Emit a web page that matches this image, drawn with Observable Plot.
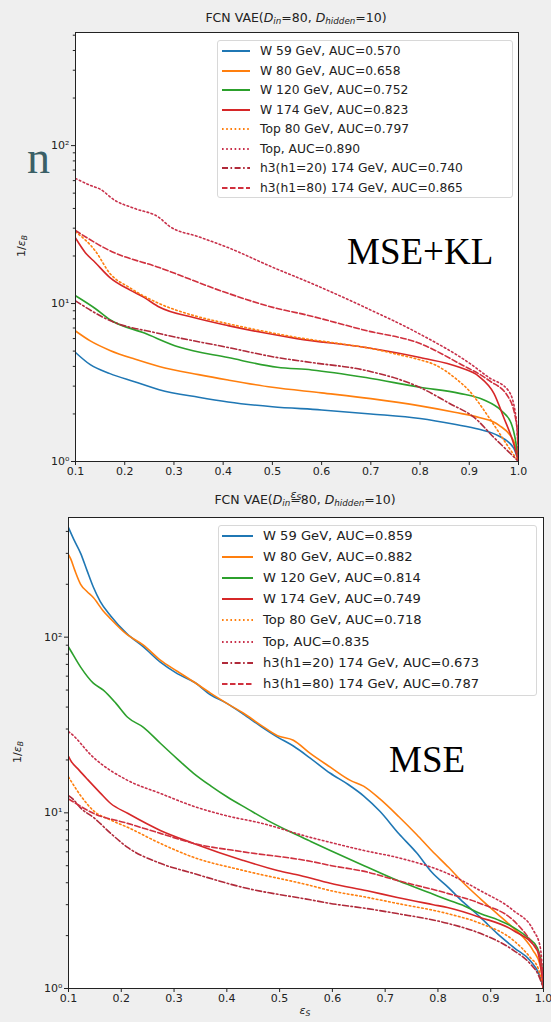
<!DOCTYPE html>
<html><head><meta charset="utf-8">
<script src="https://cdn.jsdelivr.net/npm/d3@7"></script>
<script src="https://cdn.jsdelivr.net/npm/@observablehq/plot@0.6"></script>
<style>
body{margin:0;background:#efefef;}
#page{position:relative;width:551px;height:1022px;overflow:hidden;background:#efefef;font-family:"DejaVu Sans",sans-serif;color:#222;}
.abs{position:absolute;white-space:nowrap;}
.ctr{transform:translate(-50%,-50%);}
.title{font-size:12.5px;}
.title sub,.lab sub{font-size:70%;vertical-align:-0.25em;}
.lab{font-size:11px;}
.rot{transform:translate(-50%,-50%) rotate(-90deg);}
.legend{position:absolute;background:rgba(255,255,255,0.85);border:1px solid #d8d8d8;border-radius:3px;box-sizing:border-box;}
.legend svg{position:absolute;}
.legend span{position:absolute;}
.anno{font-family:"Liberation Serif",serif;font-size:37px;color:#000;}
</style></head><body><div id="page"></div>
<script>
// ---------- shared ----------
const xTicks = [0.1,0.2,0.3,0.4,0.5,0.6,0.7,0.8,0.9,1.0];
const yMajorTicks = [1,10,100];
const yMajorLabels = ["10\u2070","10\u00b9","10\u00b2"];
const seriesNames = ["W 59 GeV","W 80 GeV","W 120 GeV","W 174 GeV","Top 80 GeV","Top","h3(h1=20) 174 GeV","h3(h1=80) 174 GeV"];

// ---------- panel 1: MSE+KL ----------
const klAUC = ["0.570","0.658","0.752","0.823","0.797","0.890","0.740","0.865"];
const kl_W59 = [[0.1,4.9],[0.13,4.1],[0.17,3.6],[0.22,3.2],[0.27,2.85],[0.35,2.55],[0.41,2.38],[0.5,2.22],[0.6,2.12],[0.7,2.0],[0.8,1.87],[0.87,1.72],[0.92,1.6],[0.96,1.45],[0.99,1.22],[1.0,1.0]];
const kl_W80 = [[0.1,6.7],[0.13,5.8],[0.17,5.05],[0.22,4.45],[0.27,4.0],[0.35,3.55],[0.41,3.28],[0.5,2.95],[0.6,2.72],[0.7,2.5],[0.8,2.25],[0.87,2.05],[0.92,1.9],[0.96,1.7],[0.99,1.35],[1.0,1.0]];
const kl_W120 = [[0.1,11.2],[0.14,9.3],[0.17,7.9],[0.24,6.5],[0.31,5.3],[0.41,4.55],[0.51,3.95],[0.58,3.8],[0.69,3.4],[0.8,2.95],[0.88,2.7],[0.93,2.45],[0.965,2.1],[0.985,1.75],[0.995,1.3],[1.0,1.0]];
const kl_W174 = [[0.1,26],[0.12,21],[0.14,18.2],[0.17,14.6],[0.21,12.2],[0.24,10.9],[0.27,9.5],[0.34,8.15],[0.41,7.25],[0.48,6.55],[0.55,6.0],[0.69,5.27],[0.8,4.55],[0.88,3.95],[0.92,3.45],[0.95,2.7],[0.97,1.9],[0.99,1.3],[1.0,1.0]];
const kl_Top80 = [[0.1,28.5],[0.14,21.6],[0.17,15.5],[0.21,12.6],[0.27,10],[0.34,8.4],[0.41,7.45],[0.48,6.7],[0.55,6.1],[0.65,5.5],[0.7,5.2],[0.75,4.8],[0.8,4.4],[0.83,4.1],[0.87,3.4],[0.9,2.8],[0.94,1.9],[0.98,1.23],[1.0,1.0]];
const kl_Top = [[0.1,62],[0.13,56],[0.15,53],[0.18,45],[0.22,40],[0.27,35],[0.29,31],[0.35,26.5],[0.41,22.6],[0.5,17],[0.58,13.4],[0.69,9.4],[0.8,6.4],[0.9,4.2],[0.94,3.4],[0.98,2.8],[0.995,1.9],[1.0,1.0]];
const kl_h3_20 = [[0.1,10.4],[0.17,7.8],[0.27,6.46],[0.41,5.27],[0.51,4.55],[0.58,4.23],[0.69,3.77],[0.8,2.94],[0.86,2.33],[0.91,1.9],[0.95,1.42],[0.984,1.12],[1.0,1.0]];
const kl_h3_80 = [[0.1,29],[0.17,21.6],[0.27,16.9],[0.41,11.6],[0.51,9.3],[0.56,8.6],[0.69,6.75],[0.8,5.58],[0.88,4.17],[0.94,3.26],[0.98,2.54],[0.997,1.64],[1.0,1.0]];

// ---------- panel 2: MSE ----------
const mseAUC = ["0.859","0.882","0.814","0.749","0.718","0.835","0.673","0.787"];
const mse_W59 = [[0.1,420],[0.11,360],[0.123,300],[0.135,240],[0.147,193],[0.16,160],[0.18,132],[0.21,105],[0.242,88],[0.274,72],[0.306,62],[0.34,55],[0.369,47],[0.4,42],[0.431,36.5],[0.465,31],[0.496,27],[0.526,24],[0.558,20.5],[0.596,16.8],[0.63,14.5],[0.659,12.5],[0.69,10.2],[0.726,7.6],[0.76,5.9],[0.788,4.6],[0.82,3.75],[0.848,3.1],[0.88,2.55],[0.912,2.06],[0.945,1.7],[0.975,1.44],[0.992,1.2],[1.0,1.0]];
const mse_W80 = [[0.1,295],[0.104,280],[0.112,240],[0.123,200],[0.135,182],[0.147,168],[0.165,142],[0.18,127],[0.21,104],[0.242,90],[0.274,74],[0.306,64],[0.34,55],[0.369,48],[0.4,42],[0.431,37],[0.465,31.5],[0.496,27.5],[0.526,25.9],[0.558,21.8],[0.596,18.2],[0.634,15.3],[0.659,14.2],[0.69,12],[0.726,9.5],[0.76,7.5],[0.788,6.1],[0.82,4.9],[0.848,4.0],[0.88,3.25],[0.912,2.67],[0.94,2.25],[0.962,1.95],[0.98,1.65],[0.994,1.35],[1.0,1.0]];
const mse_W120 = [[0.1,88],[0.104,84],[0.123,67.5],[0.147,54.7],[0.166,50],[0.19,42],[0.212,35],[0.242,30.7],[0.274,24.9],[0.306,20.3],[0.337,16.8],[0.37,14.2],[0.401,12.3],[0.44,10.5],[0.477,9.06],[0.52,7.8],[0.558,6.9],[0.596,6.11],[0.66,5.0],[0.725,4.1],[0.79,3.45],[0.818,3.2],[0.85,2.95],[0.88,2.67],[0.915,2.45],[0.943,2.23],[0.97,1.95],[0.988,1.71],[0.997,1.32],[1.0,1.0]];
const mse_W174 = [[0.1,21],[0.104,19.9],[0.12,17.5],[0.136,15.5],[0.16,13],[0.18,11.3],[0.212,9.94],[0.274,7.94],[0.337,6.7],[0.431,5.36],[0.496,4.7],[0.539,4.4],[0.596,3.97],[0.666,3.6],[0.723,3.3],[0.791,3.0],[0.818,2.89],[0.88,2.54],[0.943,2.14],[0.988,1.65],[1.0,1.0]];
const mse_Top80 = [[0.1,16],[0.104,15.3],[0.125,12.3],[0.147,10.3],[0.18,9.1],[0.212,8.27],[0.274,6.7],[0.337,5.58],[0.431,4.7],[0.558,3.86],[0.596,3.61],[0.666,3.3],[0.723,3.05],[0.818,2.67],[0.88,2.35],[0.943,1.88],[0.975,1.5],[0.99,1.3],[1.0,1.0]];
const mse_Top = [[0.1,29],[0.104,28.4],[0.147,20.7],[0.212,15.3],[0.274,12.9],[0.337,10.9],[0.401,9.6],[0.464,8.75],[0.558,7.25],[0.596,6.79],[0.66,6.1],[0.723,5.57],[0.818,4.52],[0.88,3.61],[0.943,2.78],[0.981,2.14],[0.994,1.71],[1.0,1.0]];
const mse_h3_20 = [[0.1,12.5],[0.104,12.3],[0.125,10.5],[0.147,9.43],[0.18,7.64],[0.212,6.36],[0.274,5.16],[0.337,4.52],[0.431,3.76],[0.558,3.2],[0.596,3.05],[0.666,2.85],[0.723,2.67],[0.818,2.35],[0.88,2.06],[0.943,1.65],[0.975,1.38],[0.99,1.2],[1.0,1.0]];
const mse_h3_80 = [[0.1,12],[0.104,11.8],[0.147,9.94],[0.212,8.71],[0.274,7.64],[0.337,6.7],[0.431,6.0],[0.558,5.3],[0.596,5.02],[0.666,4.6],[0.723,4.12],[0.818,3.48],[0.88,3.05],[0.943,2.44],[0.975,1.88],[0.994,1.5],[1.0,1.0]];

// ---------- styles (not data) ----------
const lineStyles = [
  {color:"#1f77b4", dash:null},
  {color:"#ff7f0e", dash:null},
  {color:"#2ca02c", dash:null},
  {color:"#d62728", dash:null},
  {color:"#ff7f0e", dash:"1.6,2.6"},
  {color:"#c8304a", dash:"1.6,2.6"},
  {color:"#b02a3a", dash:"6,2.5,1.6,2.5"},
  {color:"#d0303e", dash:"5.5,2.5"}
];

const page = document.getElementById("page");
function add(html){ page.insertAdjacentHTML("beforeend", html); }

function makePanel({series, yMax, top, height, margin}) {
  const minor = [];
  for (const dec of [1,10,100]) for (let k=2;k<=9;k++) if (k*dec < yMax) minor.push(k*dec);
  const marks = [Plot.frame({fill:"white", stroke:null})];
  series.forEach((pts,i) => {
    const st = lineStyles[i];
    marks.push(Plot.line(pts, {x:d=>d[0], y:d=>d[1], stroke:st.color, strokeWidth:1.6, strokeDasharray:st.dash, curve:"monotone-x", clip:true}));
  });
  marks.push(Plot.axisX({ticks:xTicks, tickSize:4, tickPadding:2, tickFormat:d3.format(".1f"), label:null}));
  marks.push(Plot.axisY({ticks:minor, tickSize:2.2, tickFormat:()=>"", label:null}));
  marks.push(Plot.axisY({ticks:yMajorTicks, tickSize:4, tickPadding:2, tickFormat:d=>yMajorLabels[yMajorTicks.indexOf(d)], label:null}));
  marks.push(Plot.frame({stroke:"#222", strokeWidth:1}));
  const svg = Plot.plot({
    width:551, height,
    marginTop:margin[0], marginRight:margin[1], marginBottom:margin[2], marginLeft:margin[3],
    x:{domain:[0.1,1.0]},
    y:{type:"log", domain:[1,yMax]},
    style:{background:"transparent", fontFamily:"DejaVu Sans", fontSize:"11px", color:"#222", overflow:"visible"},
    marks
  });
  svg.style.position = "absolute";
  svg.style.left = "0px";
  svg.style.top = top + "px";
  page.appendChild(svg);
}

function makeLegend({left, top, width, height, rowH, firstY, lineX0, lineX1, textX, fontSize, aucs}) {
  let h = `<div class="legend" style="left:${left}px;top:${top}px;width:${width}px;height:${height}px">`;
  seriesNames.forEach((name,i) => {
    const st = lineStyles[i];
    const cy = firstY + i*rowH - top - 1;
    h += `<svg style="left:${lineX0-left-1}px;top:${cy-5}px" width="${lineX1-lineX0}" height="10"><line x1="0" x2="${lineX1-lineX0}" y1="5" y2="5" stroke="${st.color}" stroke-width="2" ${st.dash?`stroke-dasharray="${st.dash}"`:""}/></svg>`;
    h += `<span style="left:${textX-left-1}px;top:${cy}px;transform:translateY(-50%);font-size:${fontSize}px;line-height:1">${name}, AUC=${aucs[i]}</span>`;
  });
  h += `</div>`;
  add(h);
}

// Panel 1
makePanel({series:[kl_W59,kl_W80,kl_W120,kl_W174,kl_Top80,kl_Top,kl_h3_20,kl_h3_80], yMax:520, top:0, height:500, margin:[32,33,39,75]});
// Panel 2
makePanel({series:[mse_W59,mse_W80,mse_W120,mse_W174,mse_Top80,mse_Top,mse_h3_20,mse_h3_80], yMax:480, top:500, height:522, margin:[17,8,34,68]});

const titleHTML = `FCN VAE(<i>D<sub>in</sub></i>=80, <i>D<sub>hidden</sub></i>=10)`;
add(`<div class="abs ctr title" style="left:296px;top:18px">${titleHTML}</div>`);
add(`<div class="abs ctr lab" style="left:296px;top:495px"><i>ε<sub>S</sub></i></div>`);
add(`<div class="abs ctr title" style="left:305px;top:500px">${titleHTML}</div>`);
add(`<div class="abs ctr lab" style="left:305px;top:1011px"><i>ε<sub>S</sub></i></div>`);
add(`<div class="abs rot lab" style="left:22px;top:246px">1/<i>ε<sub>B</sub></i></div>`);
add(`<div class="abs rot lab" style="left:18px;top:752px">1/<i>ε<sub>B</sub></i></div>`);

makeLegend({left:217, top:40, width:296, height:158, rowH:19.5, firstY:51, lineX0:222, lineX1:250, textX:260, fontSize:12.3, aucs:klAUC});
makeLegend({left:218, top:525, width:319, height:171, rowH:21.1, firstY:536, lineX0:222, lineX1:253, textX:263, fontSize:13.1, aucs:mseAUC});

add(`<div class="abs anno" style="left:347px;top:233px;line-height:1">MSE+KL</div>`);
add(`<div class="abs anno" style="left:389px;top:741px;line-height:1">MSE</div>`);
add(`<div class="abs" style="left:27px;top:135px;font-family:'Liberation Serif',serif;font-size:46px;color:#3a5f66;line-height:1">n</div>`);
</script></body></html>
